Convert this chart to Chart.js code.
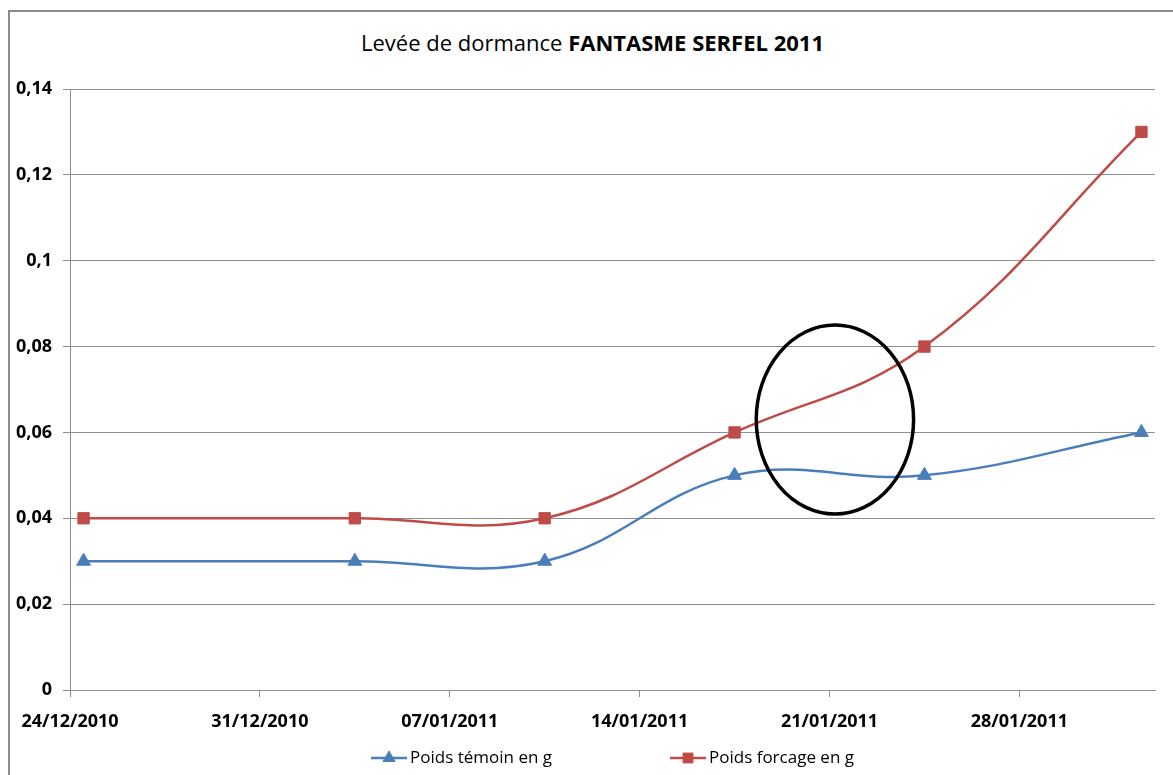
<!DOCTYPE html>
<html lang="fr">
<head>
    <meta charset="UTF-8">
    <title>Levée de dormance FANTASME SERFEL 2011</title>
    <script src="https://cdn.jsdelivr.net/npm/chart.js"></script>
    <style>
        body {
            margin: 0;
            width: 1173px;
            height: 775px;
            overflow: hidden;
            background: #ffffff;
            font-family: 'Open Sans', sans-serif;
        }

        .cadre {
            position: absolute;
            left: 8px;
            top: 10px;
            width: 1200px;
            height: 800px;
            border-left: 2px solid #8c8c8c;
            border-top: 2px solid #8c8c8c;
        }

        #titre {
            position: absolute;
            left: 6px;
            top: 27px;
            width: 1173px;
            line-height: 30px;
            text-align: center;
            font-size: 22px;
            color: #000;
        }

        .zone {
            position: absolute;
            left: 0;
            top: 0;
        }
    </style>
</head>
<body>
    <div class="cadre"></div>
    <div id="titre">Levée de dormance <b>FANTASME SERFEL 2011</b></div>
    <canvas class="zone" id="graphique" width="1173" height="775"></canvas>

    <script>
        // Données
        const dates = ['24/12/2010', '03/01/2011', '10/01/2011', '17/01/2011', '24/01/2011', '01/02/2011'];
        const poidsTemoin = [0.03, 0.03, 0.03, 0.05, 0.05, 0.06];
        const poidsForcage = [0.04, 0.04, 0.04, 0.06, 0.08, 0.13];
        const datesAxe = ['24/12/2010', '31/12/2010', '07/01/2011', '14/01/2011', '21/01/2011', '28/01/2011'];
        const seriesNoms = ['Poids témoin en g', 'Poids forcage en g'];

        const BLEU = '#4a7ebb';
        const ROUGE = '#be4b48';
        const GRIS = '#8e8e8e';

        // nombre de jours depuis la première date
        function jour(s) {
            const [d, m, y] = s.split('/').map(Number);
            return (Date.UTC(y, m - 1, d) - Date.UTC(2010, 11, 24)) / 86400000;
        }

        function virgule(v) {
            return String(Number(v.toFixed(2))).replace('.', ',');
        }

        // ellipse tracée à la main sur le graphique (en unités des axes)
        const ellipse = { jour: 27.7, valeur: 0.063, demiJours: 2.9, demiValeur: 0.022 };

        const ellipsePlugin = {
            id: 'ellipse',
            afterDatasetsDraw(chart) {
                const { ctx, scales: { x, y } } = chart;
                const cx = x.getPixelForValue(ellipse.jour);
                const cy = y.getPixelForValue(ellipse.valeur);
                const rx = x.getPixelForValue(ellipse.jour + ellipse.demiJours) - cx;
                const ry = cy - y.getPixelForValue(ellipse.valeur + ellipse.demiValeur);
                ctx.save();
                ctx.beginPath();
                ctx.ellipse(cx, cy, rx, ry, 0, 0, Math.PI * 2);
                ctx.lineWidth = 3.5;
                ctx.strokeStyle = '#000';
                ctx.stroke();
                ctx.restore();
            }
        };

        // légende : trait + marqueur comme dans Excel
        const legendePlugin = {
            id: 'legendeExcel',
            afterDraw(chart) {
                const ctx = chart.ctx;
                const area = chart.chartArea;
                ctx.save();
                ctx.font = '17px "Open Sans"';
                ctx.textBaseline = 'middle';
                const trait = 36, ecart = 3, entre = 118;
                const largeurs = chart.data.datasets.map(ds => ctx.measureText(ds.label).width);
                const total = largeurs.reduce((a, w) => a + trait + ecart + w, 0) + entre * (largeurs.length - 1);
                let xPos = (area.left + area.right) / 2 - total / 2;
                const yPos = chart.height - 17;
                chart.data.datasets.forEach((ds, i) => {
                    ctx.strokeStyle = ds.borderColor;
                    ctx.lineWidth = 2.5;
                    ctx.beginPath();
                    ctx.moveTo(xPos, yPos);
                    ctx.lineTo(xPos + trait, yPos);
                    ctx.stroke();
                    ctx.fillStyle = ds.backgroundColor;
                    ctx.lineWidth = 1;
                    Chart.helpers.drawPoint(ctx, {
                        pointStyle: ds.pointStyle,
                        radius: 7,
                        borderWidth: 1
                    }, xPos + trait / 2, yPos);
                    ctx.fillStyle = '#000';
                    ctx.fillText(ds.label, xPos + trait + ecart, yPos);
                    xPos += trait + ecart + largeurs[i] + entre;
                });
                ctx.restore();
            }
        };

        const serie = (label, valeurs, couleur, forme) => ({
            label: label,
            data: dates.map((d, i) => ({ x: jour(d), y: valeurs[i] })),
            borderColor: couleur,
            backgroundColor: couleur,
            borderWidth: 2.5,
            pointStyle: forme,
            pointRadius: 8,
            pointBorderWidth: 1,
            tension: 0.4,
            fill: false
        });

        const ctx = document.getElementById('graphique').getContext('2d');
        new Chart(ctx, {
            type: 'line',
            data: {
                datasets: [
                    serie(seriesNoms[0], poidsTemoin, BLEU, 'triangle'),
                    serie(seriesNoms[1], poidsForcage, ROUGE, 'rect')
                ]
            },
            options: {
                responsive: false,
                animation: false,
                layout: { padding: { top: 89, right: 18, bottom: 45, left: 0 } },
                plugins: {
                    legend: { display: false },
                    tooltip: { enabled: false }
                },
                scales: {
                    x: {
                        type: 'linear',
                        min: jour(dates[0]) - 0.5,
                        max: jour(dates[dates.length - 1]) + 0.5,
                        afterBuildTicks: scale => {
                            scale.ticks = datesAxe.map(d => ({ value: jour(d) - 0.5 }));
                        },
                        afterFit: scale => { scale.height = 40; },
                        grid: { drawOnChartArea: false, color: GRIS, tickLength: 7 },
                        border: { color: GRIS },
                        ticks: {
                            autoSkip: false,
                            maxRotation: 0,
                            padding: 14,
                            color: '#000',
                            font: { family: 'Open Sans', size: 18, weight: 'bold' },
                            callback: (v, i) => datesAxe[i]
                        }
                    },
                    y: {
                        min: 0,
                        max: 0.14,
                        afterFit: scale => { scale.width = 70; },
                        grid: { color: GRIS, tickLength: 7 },
                        border: { color: GRIS },
                        ticks: {
                            stepSize: 0.02,
                            padding: 11,
                            color: '#000',
                            font: { family: 'Open Sans', size: 18, weight: 'bold' },
                            callback: v => virgule(v)
                        }
                    }
                }
            },
            plugins: [ellipsePlugin, legendePlugin]
        });
    </script>
</body>
</html>
